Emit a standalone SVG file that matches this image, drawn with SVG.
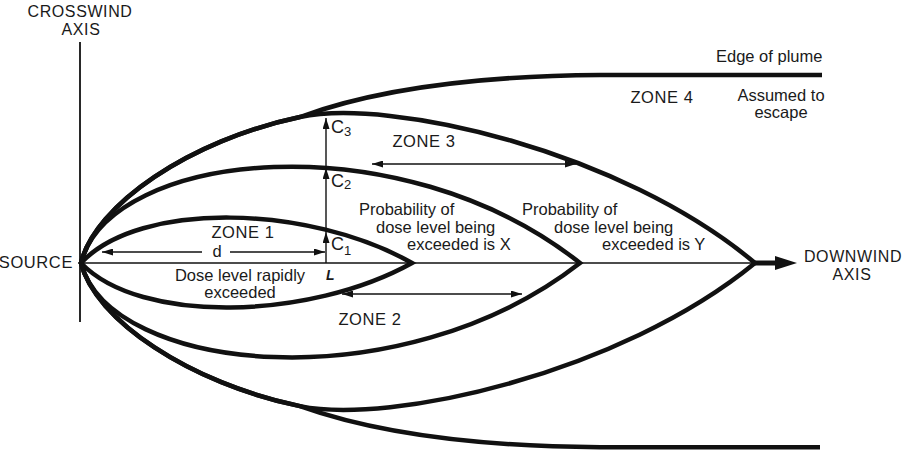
<svg xmlns="http://www.w3.org/2000/svg" width="915" height="452" viewBox="0 0 915 452">
<style>
.bg{fill:#fff}
.thick{fill:none;stroke:#111;stroke-width:4.5;stroke-linejoin:miter;stroke-miterlimit:6}
.thin{fill:none;stroke:#111;stroke-width:1.5}
.arr{fill:none;stroke:#111;stroke-width:1.4;marker-end:url(#ah)}
.arr2{fill:none;stroke:#111;stroke-width:1.4;marker-start:url(#ah);marker-end:url(#ah)}
text{font-family:"Liberation Sans",Arial,sans-serif;font-size:16.5px;fill:#1a1a1a}
.cap{letter-spacing:0.6px}
.ax{font-size:16px}
.mid{text-anchor:middle}
.c{font-size:18px}
.sub{font-size:13px}
</style>
<defs>
<marker id="ah" viewBox="0 0 11 7" refX="11" refY="3.5" markerWidth="11" markerHeight="7" markerUnits="userSpaceOnUse" orient="auto-start-reverse">
<path d="M0,0 L11,3.5 L0,7 z" fill="#111"/>
</marker>
</defs>
<rect class="bg" x="0" y="0" width="915" height="452"/>

<g id="axes">
<line class="thin" x1="80" y1="42" x2="80" y2="322" style="stroke-width:1.8"/>
<line class="thin" x1="81" y1="263" x2="757" y2="263"/>
<line x1="755" y1="263" x2="778" y2="263" stroke="#111" stroke-width="5"/>
<path d="M775,256 L797,263 L775,270 z" fill="#111"/>
<text class="cap mid ax" x="80" y="17">CROSSWIND</text>
<text class="cap mid ax" x="81" y="35">AXIS</text>
<text class="cap" x="73" y="268" text-anchor="end">SOURCE</text>
<text class="cap mid ax" x="853" y="262">DOWNWIND</text>
<text class="cap mid ax" x="852" y="280">AXIS</text>
</g>

<g id="zone1">
<path class="thick" d="M81,263 C140,200 310,205 412,263 C310,319.8 140,324.7 81,263 Z"/>
<text class="cap mid" x="243" y="238">ZONE 1</text>
<text class="mid" x="240" y="281">Dose level rapidly</text>
<text class="mid" x="240" y="298">exceeded</text>
</g>

<g id="zone2">
<path class="thick" d="M81,263 C110,150 400,120 580,263 C400,403.1 110,373.7 81,263 Z"/>
<text class="cap mid" x="370" y="325">ZONE 2</text>
<text x="359" y="215">Probability of</text>
<text x="376" y="233">dose level being</text>
<text x="407" y="250">exceeded is X</text>
</g>

<g id="zone3">
<path class="thick" d="M81,263 C95,205 190,140 300,117 C390,98 620,150 755,263 C620,373.7 390,424.7 300,406.1 C190,383.5 95,319.8 81,263 Z"/>
<text class="cap mid" x="424" y="147">ZONE 3</text>
<text x="522" y="215">Probability of</text>
<text x="554" y="233">dose level being</text>
<text x="602" y="250">exceeded is Y</text>
</g>

<g id="zone4">
<path class="thick" d="M822,75 L600,75 C450,76 360,95 300,117 C190,140 95,205 81,263 C95,319.8 190,383.5 300,406.1 C360,427.6 450,446.3 600,447.2 L820,447.2" style="stroke-linejoin:round"/>
<text x="716" y="62">Edge of plume</text>
<text class="cap mid" x="662" y="103">ZONE 4</text>
<text class="mid" x="781" y="101">Assumed to</text>
<text class="mid" x="781" y="118">escape</text>
</g>

<g id="connectors">
<line class="arr" x1="202" y1="252" x2="102" y2="252"/>
<line class="arr" x1="230" y1="252" x2="325" y2="252"/>
<text class="mid" x="217" y="257">d</text>
<line class="arr" x1="326" y1="263" x2="326" y2="232"/>
<line class="arr" x1="326" y1="232" x2="326" y2="168"/>
<line class="arr" x1="326" y1="168" x2="326" y2="118"/>
<line class="arr2" x1="372" y1="164" x2="576" y2="164"/>
<line class="arr2" x1="342" y1="294" x2="522" y2="294"/>
<text class="c" x="331" y="133">C<tspan class="sub" dy="3">3</tspan></text>
<text class="c" x="331" y="187">C<tspan class="sub" dy="2">2</tspan></text>
<text class="c" x="331" y="250">C<tspan class="sub" dy="5">1</tspan></text>
<text x="326" y="280" style="font-weight:bold;font-style:italic;font-size:14px">L</text>
</g>
</svg>
